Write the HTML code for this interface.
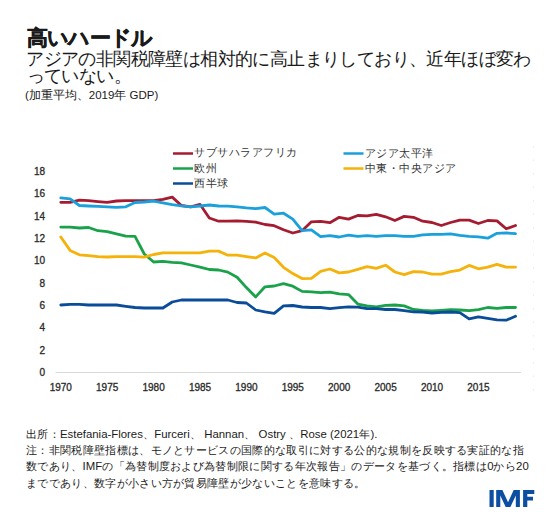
<!DOCTYPE html>
<html><head><meta charset="utf-8"><style>
html,body{margin:0;padding:0;background:#fff;}
body{width:560px;height:517px;position:relative;overflow:hidden;font-family:"Liberation Sans",sans-serif;color:#1a1a1a;}
.t{position:absolute;white-space:nowrap;}
#title{left:27px;top:24px;font-size:21px;letter-spacing:-0.8px;-webkit-text-stroke:0.5px #1a1a1a;font-weight:bold;line-height:27px;}
#sub1{left:26.3px;top:47.5px;font-size:18px;letter-spacing:-0.6px;line-height:22px;}
#sub2{left:26.5px;top:65.3px;font-size:18px;letter-spacing:-0.6px;line-height:22px;}
#unit{left:25px;top:87.5px;font-size:11.5px;line-height:15px;}
.foot{font-size:11.4px;line-height:15px;left:26px;letter-spacing:0.32px;} .foot span{letter-spacing:0}
#f1{top:427px;} #f2{top:443px;} #f3{top:459px;} #f4{top:475.5px;}
.leg{font-size:11px;line-height:14px;color:#333;letter-spacing:0.5px;}
svg{position:absolute;left:0;top:0;}
</style></head><body>
<div class="t" id="title">高いハードル</div>
<div class="t" id="sub1">アジアの非関税障壁は相対的に高止まりしており、近年ほぼ変わ</div>
<div class="t" id="sub2">っていない。</div>
<div class="t" id="unit">(加重平均、2019年 GDP)</div>
<svg width="560" height="517" viewBox="0 0 560 517">
<line x1="55.5" y1="372.5" x2="521" y2="372.5" stroke="#d9d9d9" stroke-width="1"/>
<line x1="533.5" y1="146" x2="533.5" y2="396" stroke="#ebebeb" stroke-width="1" stroke-dasharray="1.5,12"/>
<g font-family="Liberation Sans, sans-serif" font-size="10" fill="#2a2a2a" stroke="#2a2a2a" stroke-width="0.3"><text x="45" y="375.8" text-anchor="end">0</text><text x="45" y="353.5" text-anchor="end">2</text><text x="45" y="331.2" text-anchor="end">4</text><text x="45" y="308.9" text-anchor="end">6</text><text x="45" y="286.6" text-anchor="end">8</text><text x="45" y="264.3" text-anchor="end">10</text><text x="45" y="242.0" text-anchor="end">12</text><text x="45" y="219.7" text-anchor="end">14</text><text x="45" y="197.4" text-anchor="end">16</text><text x="45" y="175.1" text-anchor="end">18</text><text x="60.8" y="390.5" text-anchor="middle">1970</text><text x="107.2" y="390.5" text-anchor="middle">1975</text><text x="153.6" y="390.5" text-anchor="middle">1980</text><text x="200.0" y="390.5" text-anchor="middle">1985</text><text x="246.4" y="390.5" text-anchor="middle">1990</text><text x="292.8" y="390.5" text-anchor="middle">1995</text><text x="339.2" y="390.5" text-anchor="middle">2000</text><text x="385.6" y="390.5" text-anchor="middle">2005</text><text x="432.0" y="390.5" text-anchor="middle">2010</text><text x="478.4" y="390.5" text-anchor="middle">2015</text></g>
<g fill="none" stroke-width="2.8" stroke-linejoin="round" stroke-linecap="round">
<polyline points="60.8,202.3 70.1,202.3 79.4,200.2 88.6,200.7 97.9,201.6 107.2,202.3 116.5,201.0 125.8,200.7 135.0,200.7 144.3,200.7 153.6,200.7 162.9,199.3 172.2,197.1 181.4,205.5 190.7,206.8 200.0,204.3 209.3,218.0 218.6,221.2 227.8,221.2 237.1,220.8 246.4,221.4 255.7,222.1 265.0,224.5 274.2,225.7 283.5,229.8 292.8,233.0 302.1,230.7 311.4,221.8 320.6,221.4 329.9,222.7 339.2,217.3 348.5,219.1 357.8,215.5 367.0,215.9 376.3,214.3 385.6,216.8 394.9,220.5 404.2,216.4 413.4,217.3 422.7,221.2 432.0,222.5 441.3,225.5 450.6,222.5 459.8,220.1 469.1,220.1 478.4,223.5 487.7,220.5 497.0,220.9 506.2,228.8 515.5,225.5" stroke="#a51c30"/>
<polyline points="60.8,197.9 70.1,198.9 79.4,205.5 88.6,206.0 97.9,206.4 107.2,206.8 116.5,207.3 125.8,206.8 135.0,202.5 144.3,202.0 153.6,201.2 162.9,202.9 172.2,204.6 181.4,205.9 190.7,206.8 200.0,206.0 209.3,205.0 218.6,206.0 227.8,206.2 237.1,206.8 246.4,207.9 255.7,208.6 265.0,207.5 274.2,214.1 283.5,213.2 292.8,219.1 302.1,230.7 311.4,229.8 320.6,236.6 329.9,235.7 339.2,237.0 348.5,235.2 357.8,236.4 367.0,235.7 376.3,236.4 385.6,235.7 394.9,235.7 404.2,236.4 413.4,236.4 422.7,234.9 432.0,234.3 441.3,234.3 450.6,233.9 459.8,235.3 469.1,236.3 478.4,236.8 487.7,238.2 497.0,233.3 506.2,232.9 515.5,233.7" stroke="#1aa0db"/>
<polyline points="60.8,227.1 70.1,227.1 79.4,228.0 88.6,227.5 97.9,230.7 107.2,231.6 116.5,233.9 125.8,236.1 135.0,236.4 144.3,254.0 153.6,262.0 162.9,261.4 172.2,262.3 181.4,262.9 190.7,265.0 200.0,267.1 209.3,269.5 218.6,270.0 227.8,272.1 237.1,277.3 246.4,287.6 255.7,296.9 265.0,286.8 274.2,286.0 283.5,283.6 292.8,286.2 302.1,291.4 311.4,291.8 320.6,292.7 329.9,292.1 339.2,293.9 348.5,294.6 357.8,304.1 367.0,305.9 376.3,306.8 385.6,305.4 394.9,305.0 404.2,305.9 413.4,309.5 422.7,310.4 432.0,311.0 441.3,310.4 450.6,309.6 459.8,310.0 469.1,310.6 478.4,309.6 487.7,307.5 497.0,308.4 506.2,307.5 515.5,307.5" stroke="#19a24a"/>
<polyline points="60.8,237.0 70.1,250.4 79.4,254.8 88.6,255.7 97.9,256.6 107.2,257.0 116.5,256.6 125.8,256.6 135.0,256.6 144.3,257.2 153.6,254.5 162.9,252.9 172.2,252.9 181.4,252.9 190.7,252.9 200.0,252.9 209.3,251.1 218.6,251.1 227.8,255.2 237.1,255.2 246.4,256.6 255.7,257.9 265.0,253.0 274.2,257.5 283.5,267.3 292.8,273.6 302.1,278.6 311.4,278.4 320.6,271.4 329.9,269.0 339.2,272.9 348.5,272.0 357.8,269.3 367.0,266.6 376.3,268.4 385.6,265.2 394.9,272.0 404.2,274.6 413.4,271.6 422.7,272.0 432.0,274.1 441.3,274.1 450.6,271.7 459.8,270.1 469.1,265.4 478.4,268.8 487.7,267.2 497.0,264.4 506.2,267.2 515.5,267.2" stroke="#f4b20a"/>
<polyline points="60.8,305.0 70.1,304.3 79.4,304.3 88.6,305.0 97.9,305.0 107.2,305.0 116.5,305.0 125.8,306.3 135.0,307.5 144.3,308.0 153.6,308.0 162.9,308.0 172.2,302.0 181.4,300.0 190.7,300.0 200.0,300.0 209.3,300.0 218.6,300.0 227.8,300.0 237.1,302.5 246.4,303.0 255.7,310.0 265.0,311.8 274.2,313.3 283.5,305.8 292.8,305.5 302.1,307.0 311.4,307.5 320.6,307.5 329.9,308.6 339.2,307.7 348.5,306.8 357.8,307.1 367.0,308.6 376.3,308.6 385.6,309.5 394.9,309.5 404.2,310.7 413.4,311.8 422.7,312.0 432.0,313.0 441.3,312.4 450.6,312.0 459.8,312.6 469.1,318.9 478.4,316.9 487.7,318.3 497.0,319.8 506.2,320.2 515.5,316.3" stroke="#0b4c98"/>
</g>
<g stroke-width="2.5">
<line x1="173" y1="153.5" x2="193" y2="153.5" stroke="#a51c30"/>
<line x1="173" y1="168.5" x2="193" y2="168.5" stroke="#19a24a"/>
<line x1="173" y1="183.5" x2="193" y2="183.5" stroke="#0b4c98"/>
<line x1="343.5" y1="153.5" x2="363.5" y2="153.5" stroke="#1aa0db"/>
<line x1="343.5" y1="168.5" x2="363.5" y2="168.5" stroke="#f4b20a"/>
</g>
<g fill="#0b4ea2">
<rect x="489.5" y="490" width="4.2" height="17"/>
<polygon points="496.2,507 496.2,490 502.4,490 508.05,502.2 513.7,490 519.9,490 519.9,507 515.8,507 515.8,495.5 510.4,507 505.7,507 500.3,495.5 500.3,507"/>
<polygon points="523.1,507 523.1,490 534.3,490 534.3,494 527.3,494 527.3,496.8 533,496.8 533,500.5 527.3,500.5 527.3,507"/>
</g>
</svg>
<div class="t leg" style="left:194px;top:145.3px">サブサハラアフリカ</div>
<div class="t leg" style="left:194px;top:161px">欧州</div>
<div class="t leg" style="left:194px;top:176px">西半球</div>
<div class="t leg" style="left:364.5px;top:145.7px">アジア太平洋</div>
<div class="t leg" style="left:364.5px;top:161px">中東・中央アジア</div>
<div class="t foot" id="f1">出所：<span>Estefania-Flores</span>、<span>Furceri</span>、<span> Hannan</span>、<span> Ostry </span>、<span>Rose (2021</span>年<span>).</span></div>
<div class="t foot" id="f2">注：非関税障壁指標は、モノとサービスの国際的な取引に対する公的な規制を反映する実証的な指</div>
<div class="t foot" id="f3">数であり、<span>IMF</span>の「為替制度および為替制限に関する年次報告」のデータを基づく。指標は<span>0</span>から<span>20</span></div>
<div class="t foot" id="f4">までであり、数字が小さい方が貿易障壁が少ないことを意味する。</div>
</body></html>
